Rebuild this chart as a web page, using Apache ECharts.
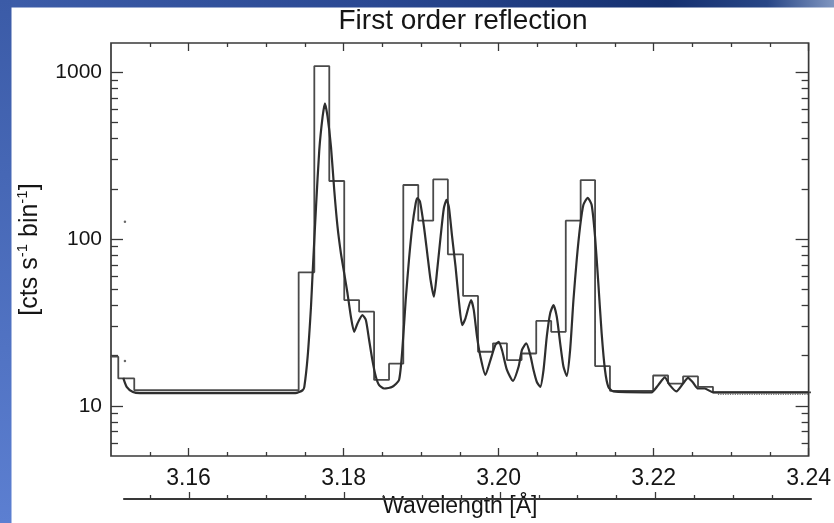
<!DOCTYPE html>
<html>
<head>
<meta charset="utf-8">
<script src="https://cdn.jsdelivr.net/npm/echarts@6/dist/echarts.min.js"></script>
<style>
html,body{margin:0;padding:0;background:#ffffff;}
#chart{width:834px;height:523px;}
</style>
</head>
<body>
<div id="chart"></div>
<script>
// ---------------- data ----------------
const xRange = [3.15, 3.24];
const yRange = [5, 1500];

// histogram: left edge of each bin (plus the final right edge) and counts per bin
const binEdges = [3.14914, 3.15094, 3.15300, 3.17421, 3.17623, 3.17816, 3.18009, 3.18201, 3.18394, 3.18587,
                  3.18771, 3.18964, 3.19157, 3.19346, 3.19542, 3.19735, 3.19928, 3.20108, 3.20297, 3.20486,
                  3.20679, 3.20867, 3.21059, 3.21245, 3.21437, 3.21994, 3.22187, 3.22380, 3.22573, 3.22766,
                  3.24050];
const binCounts = [19.7, 14.6, 12.4, 63.2, 1090, 223, 43.1, 36.7, 14.3, 17.9,
                   211, 129, 228, 81, 45.6, 21.1, 23.7, 18.8, 20.6, 32.3,
                   27.8, 129, 226, 17.3, 12.3, 15.2, 13.6, 15.0, 13.0, 12.05];

// model curve
const modelWave = [3.15158, 3.15202, 3.15283, 3.15373, 3.16144, 3.17379, 3.17472, 3.17494, 3.17537, 3.17580,
                   3.17601, 3.17645, 3.17687, 3.17730, 3.17760, 3.17794, 3.17838, 3.17880, 3.17922, 3.17966,
                   3.18009, 3.18051, 3.18095, 3.18137, 3.18180, 3.18244, 3.18288, 3.18330, 3.18372, 3.18416,
                   3.18459, 3.18523, 3.18630, 3.18716, 3.18758, 3.18802, 3.18844, 3.18887, 3.18931, 3.18951,
                   3.18986, 3.19037, 3.19080, 3.19123, 3.19166, 3.19208, 3.19252, 3.19294, 3.19329, 3.19359,
                   3.19401, 3.19445, 3.19487, 3.19530, 3.19573, 3.19645, 3.19680, 3.19722, 3.19766, 3.19830,
                   3.19895, 3.19959, 3.20001, 3.20044, 3.20108, 3.20185, 3.20259, 3.20301, 3.20358, 3.20409,
                   3.20451, 3.20494, 3.20538, 3.20580, 3.20622, 3.20666, 3.20709, 3.20751, 3.20795, 3.20837,
                   3.20880, 3.20923, 3.20966, 3.21008, 3.21052, 3.21094, 3.21150, 3.21201, 3.21245, 3.21287,
                   3.21330, 3.21373, 3.21416, 3.21480, 3.21973, 3.22059, 3.22145, 3.22209, 3.22294, 3.22380,
                   3.22444, 3.22508, 3.22573, 3.22659, 3.22766, 3.24000];
const modelCounts = [14.7, 13.0, 12.1, 11.9, 11.9, 11.9, 12.4, 13.0, 19.7, 39.3,
                     62.6, 156, 342, 542, 652, 542, 358, 197, 119, 82.2,
                     62.3, 47.3, 34.2, 27.8, 31.2, 35.0, 32.7, 24.8, 18.8, 15.0,
                     13.3, 12.7, 13.0, 14.3, 21.6, 43.1, 74.9, 119, 164, 176,
                     168, 119, 82.2, 56.8, 45.1, 65.2, 103, 153, 172, 156,
                     103, 68.3, 43.1, 30.5, 33.5, 43.1, 37.6, 26.0, 19.7, 15.3,
                     18.8, 23.2, 24.2, 21.6, 16.4, 14.1, 17.2, 21.6, 23.7, 20.2,
                     16.4, 13.9, 13.0, 16.4, 26.0, 35.9, 40.2, 34.2, 23.7, 17.2,
                     15.1, 21.6, 43.1, 74.9, 119, 160, 177, 160, 103, 54.3,
                     27.2, 16.4, 13.0, 12.2, 12.05, 13.3, 14.8, 13.3, 12.2, 13.6,
                     14.7, 13.8, 12.7, 12.7, 12.05, 12.05];

// faint dotted continuum at the red end
const tailWave = [3.22830, 3.24000];
const tailCounts = [11.7, 11.7];

// isolated points near the left edge
const strayWave = [3.15180, 3.15180];
const strayCounts = [127, 18.6];

// ticks
const xMajorTicks = [3.16, 3.18, 3.20, 3.22, 3.24];
const xMinorTicks = [3.155, 3.165, 3.17, 3.175, 3.185, 3.19, 3.195, 3.205, 3.21, 3.215, 3.225, 3.23, 3.235];
const yMajorTicks = [10, 100, 1000];
const yMinorTicks = [6, 7, 8, 9, 20, 30, 40, 50, 60, 70, 80, 90, 200, 300, 400, 500, 600, 700, 800, 900];

// ---------------- chart ----------------
const FONT = "'Liberation Sans', Arial, Helvetica, sans-serif";
const INK = '#383838';
const TXT = '#151515';
const L = Math.log10;

const histData = binCounts.map((v, i) => [binEdges[i], v]);
histData.push([binEdges[binEdges.length - 1], binCounts[binCounts.length - 1]]);
const modelData = modelWave.map((w, i) => [w, modelCounts[i]]);
const tailData = tailWave.map((w, i) => [w, tailCounts[i]]);
const strayData = strayWave.map((w, i) => [w, strayCounts[i]]);

function xAx(grid, pos, min, ticks, len, extra) {
  return Object.assign({
    type: 'value', gridIndex: grid, position: pos, min: min, max: xRange[1],
    axisLine: {show: false, onZero: false},
    splitLine: {show: false},
    axisTick: {show: true, inside: true, length: len, customValues: ticks, lineStyle: {color: INK, width: 1.3}},
    axisLabel: {show: false}
  }, extra || {});
}
function yAx(pos, ticks, len, extra) {
  return Object.assign({
    type: 'value', gridIndex: 0, position: pos, min: L(yRange[0]), max: L(yRange[1]),
    axisLine: {show: false, onZero: false},
    splitLine: {show: false},
    axisTick: {show: true, inside: true, length: len, customValues: ticks.map(L), lineStyle: {color: INK, width: 1.3}},
    axisLabel: {show: false}
  }, extra || {});
}

const secondMin = 3.15167;

const option = {
  animation: false,
  backgroundColor: '#ffffff',
  textStyle: {fontFamily: FONT},
  title: {
    text: 'First order reflection', left: 463, top: 7, textAlign: 'center', padding: 0,
    textStyle: {fontSize: 28, fontWeight: 'normal', color: TXT, fontFamily: FONT}
  },
  graphic: [
    {type: 'rect', x: 0, y: 0, z: -10, silent: true, shape: {width: 834, height: 7.5},
     style: {fill: new echarts.graphic.LinearGradient(0, 0, 1, 0, [
       {offset: 0, color: '#3d5da9'}, {offset: 0.45, color: '#2a4892'},
       {offset: 0.8, color: '#15306f'}, {offset: 0.92, color: '#284686'}, {offset: 1, color: '#8096c0'}])}},
    {type: 'rect', x: 0, y: 0, z: -10, silent: true, shape: {width: 11.5, height: 523},
     style: {fill: new echarts.graphic.LinearGradient(0, 0, 0, 1, [
       {offset: 0, color: '#3b5ba7'}, {offset: 1, color: '#5c7fd1'}])}}
  ],
  grid: [
    {left: 111, right: 23, top: 43, bottom: 67, show: true, borderColor: INK, borderWidth: 1.7, backgroundColor: 'transparent'},
    {left: 124, right: 23, top: 470, bottom: 24, show: false}
  ],
  xAxis: [
    xAx(0, 'bottom', xRange[0], xMajorTicks, 8, {
      axisLabel: {show: true, customValues: xMajorTicks, formatter: v => v.toFixed(2), margin: 11, fontSize: 23, color: TXT, fontFamily: FONT},
      name: 'Wavelength [Å]', nameLocation: 'middle', nameGap: 33,
      nameTextStyle: {fontSize: 23, color: TXT, fontFamily: FONT}
    }),
    xAx(0, 'bottom', xRange[0], xMinorTicks, 4),
    xAx(0, 'top', xRange[0], xMajorTicks, 8),
    xAx(0, 'top', xRange[0], xMinorTicks, 4),
    xAx(1, 'bottom', secondMin, xMajorTicks.slice(0, 4), 7, {
      axisLine: {show: true, onZero: false, lineStyle: {color: INK, width: 2.2}}
    }),
    xAx(1, 'bottom', secondMin, xMinorTicks, 4)
  ],
  yAxis: [
    {type: 'log', logBase: 10, gridIndex: 0, min: yRange[0], max: yRange[1], show: false},
    yAx('left', yMajorTicks, 12, {
      axisLabel: {show: true, customValues: yMajorTicks.map(L), formatter: v => String(Math.round(Math.pow(10, v))),
                  margin: 9, fontSize: 21, color: TXT, fontFamily: FONT},
      name: '{a|[cts s}{s|-1}{a| bin}{s|-1}{a|]}', nameLocation: 'middle', nameGap: 66,
      nameTextStyle: {
        fontSize: 25, color: TXT, fontFamily: FONT, padding: [0, 0, 0, 0],
        rich: {
          a: {fontSize: 25, lineHeight: 30, color: TXT, fontFamily: FONT},
          s: {fontSize: 15, lineHeight: 15, verticalAlign: 'top', color: TXT, fontFamily: FONT}
        }
      }
    }),
    yAx('left', yMinorTicks, 7),
    yAx('right', yMajorTicks, 13),
    yAx('right', yMinorTicks, 7),
    {type: 'value', gridIndex: 1, min: 0, max: 1, show: false}
  ],
  series: [
    {name: 'Binned counts', type: 'line', xAxisIndex: 0, yAxisIndex: 0, data: histData, step: 'end',
     symbol: 'none', clip: true, lineStyle: {color: '#4a4a4a', width: 1.8}, z: 2},
    {name: 'Model', type: 'line', xAxisIndex: 0, yAxisIndex: 0, data: modelData, smooth: 0.2,
     symbol: 'none', clip: true, lineStyle: {color: '#2e2e2e', width: 2.2}, z: 3},
    {name: 'Continuum', type: 'line', xAxisIndex: 0, yAxisIndex: 0, data: tailData,
     symbol: 'none', clip: true, lineStyle: {color: '#777777', width: 1.2, type: 'dotted'}, z: 1},
    {name: 'Points', type: 'scatter', xAxisIndex: 0, yAxisIndex: 0, data: strayData,
     symbolSize: 2.5, itemStyle: {color: '#444444'}, z: 4}
  ]
};

const chart = echarts.init(document.getElementById('chart'), null, {renderer: 'canvas'});
chart.setOption(option);
</script>
</body>
</html>
